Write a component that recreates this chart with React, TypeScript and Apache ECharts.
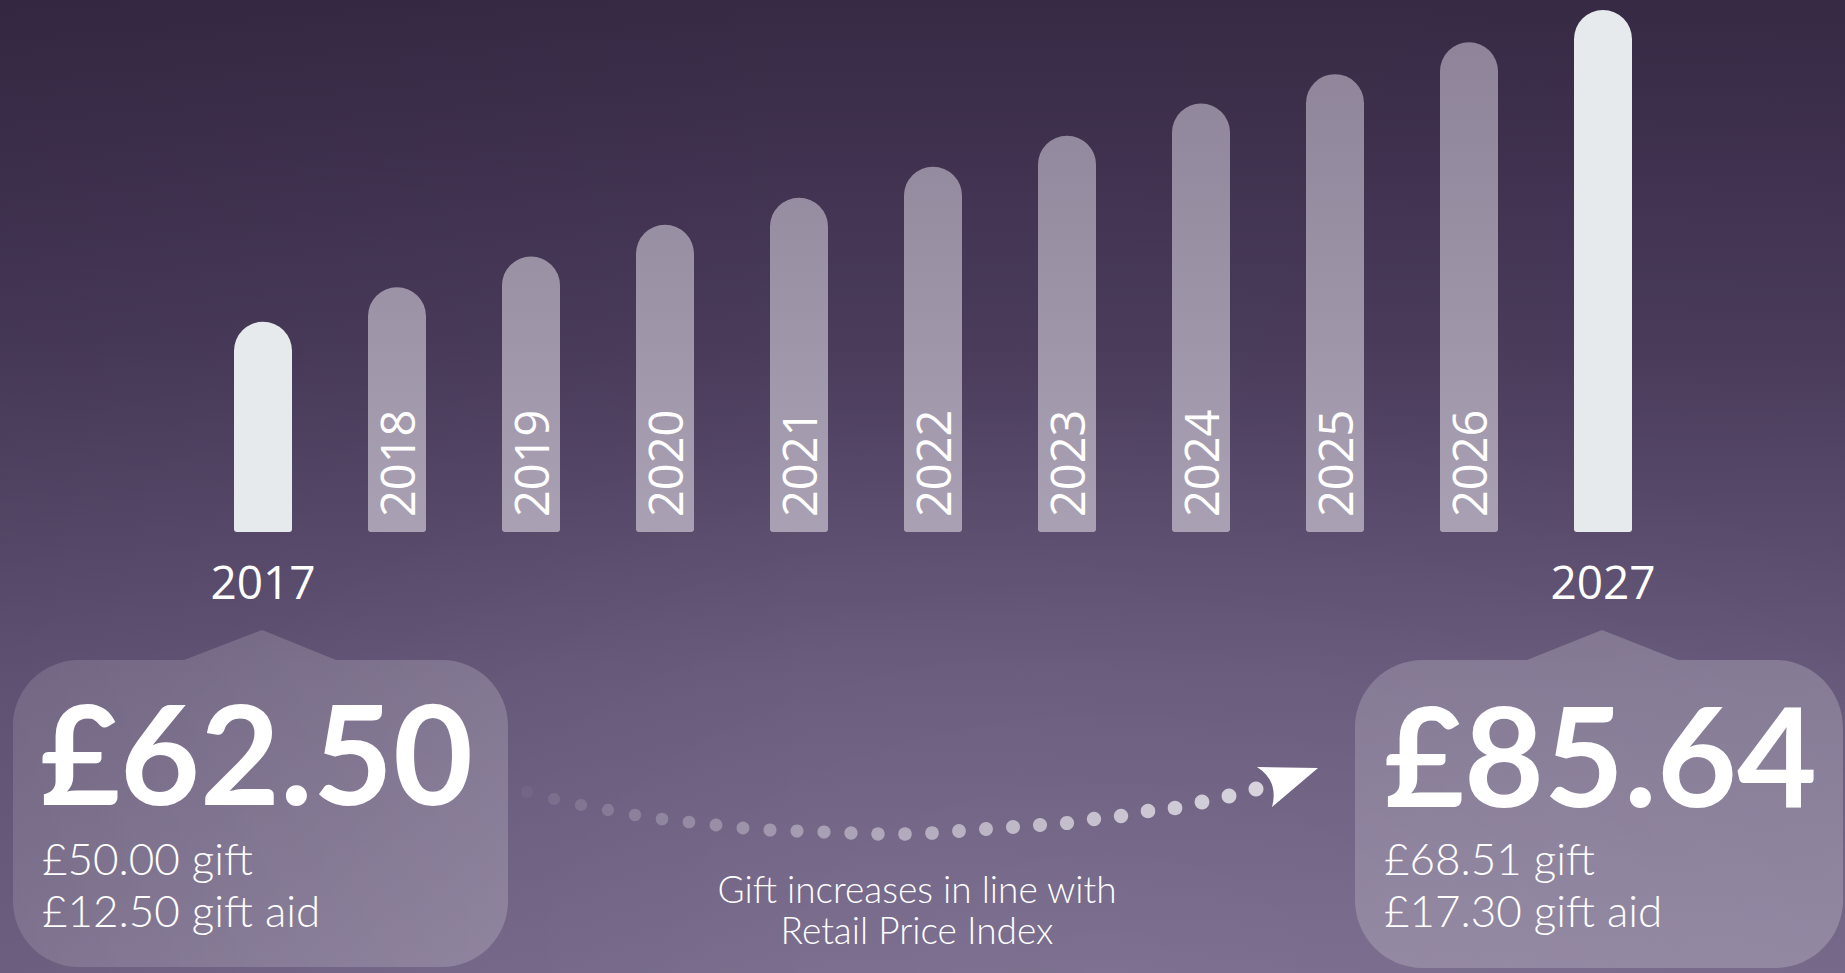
import React, { useEffect, useRef } from "react";
import * as echarts from "echarts";

// ---- data ----
const years = ["2017", "2018", "2019", "2020", "2021", "2022", "2023", "2024", "2025", "2026", "2027"];
const totals = [62.5, 65.07, 67.35, 69.7, 71.71, 74.01, 76.31, 78.7, 80.88, 83.24, 85.64];
const yMin = 46.9;
const yMax = 85.64;

const startAmount = "£62.50";
const startLines = ["£50.00 gift", "£12.50 gift aid"];
const endAmount = "£85.64";
const endLines = ["£68.51 gift", "£17.30 gift aid"];
const noteLines = ["Gift increases in line with", "Retail Price Index"];

// dotted arc: drop of each dot below the arc's top line
const dotDrop = [9, 16, 22, 27, 32, 36, 39, 42, 45, 47, 48, 49, 50, 51, 51, 50, 48, 46, 44, 42, 40, 36, 33, 28, 25, 19, 13, 6];

// ---- shapes ----
function calloutPath(x0: number, x1: number, y0: number, y1: number, r: number, p0: number, pa: number, ay: number, p1: number) {
  const c = r * 0.5523;
  return [
    `M ${x0 + r} ${y0}`,
    `L ${p0} ${y0}`,
    `L ${pa} ${ay}`,
    `L ${p1} ${y0}`,
    `L ${x1 - r} ${y0}`,
    `C ${x1 - r + c} ${y0} ${x1} ${y0 + r - c} ${x1} ${y0 + r}`,
    `L ${x1} ${y1 - r}`,
    `C ${x1} ${y1 - r + c} ${x1 - r + c} ${y1} ${x1 - r} ${y1}`,
    `L ${x0 + r} ${y1}`,
    `C ${x0 + r - c} ${y1} ${x0} ${y1 - r + c} ${x0} ${y1 - r}`,
    `L ${x0} ${y0 + r}`,
    `C ${x0} ${y0 + r - c} ${x0 + r - c} ${y0} ${x0 + r} ${y0}`,
    "Z",
  ].join(" ");
}

echarts.graphic.registerShape("calloutLeft", echarts.graphic.extendPath(calloutPath(13, 508, 660, 967, 66, 184, 262, 630, 336), {}));
echarts.graphic.registerShape("calloutRight", echarts.graphic.extendPath(calloutPath(1355, 1843, 660, 968, 68, 1527, 1602, 630, 1678), {}));
echarts.graphic.registerShape("arrowHead", echarts.graphic.extendPath("M 1257 767 L 1318 768 L 1272 807 Q 1279 781 1257 767 Z", {}));

const NUM_FONT = "Lato";
const YEAR_FONT = "'Open Sans'";

export default function App() {
  const ref = useRef<HTMLDivElement>(null);

  useEffect(() => {
    document.body.style.margin = "0";
    document.body.style.overflow = "hidden";
    const chart = echarts.init(ref.current!, undefined, { renderer: "svg" });

    const barGrad = new echarts.graphic.LinearGradient(0, 0, 0, 532, [
      { offset: 0, color: "#8c8197" },
      { offset: 1, color: "#a9a1b3" },
    ], true);

    const lastIdx = years.length - 1;

    const bigStyle = { fill: "#ffffff", fontFamily: NUM_FONT, fontWeight: "bold", fontSize: 138, lineHeight: 104, verticalAlign: "middle", align: "left" };
    const smallStyle = { fill: "#ffffff", fontFamily: NUM_FONT, fontWeight: 300, fontSize: 44, lineHeight: 44, verticalAlign: "middle", align: "left" };
    const noteStyle = { fill: "#ffffff", fontFamily: NUM_FONT, fontWeight: 300, fontSize: 37, lineHeight: 38, verticalAlign: "middle", align: "center" };

    const option: any = {
      animation: false,
      backgroundColor: new echarts.graphic.LinearGradient(0, 0, 0, 1, [
        { offset: 0, color: "#372a45" },
        { offset: 0.35, color: "#4a3b5b" },
        { offset: 0.7, color: "#67597b" },
        { offset: 1, color: "#76688a" },
      ]),
      grid: [
        { left: 196, right: 175, top: 10, bottom: 441 },
        { left: 527, width: 729, top: 783, height: 60 },
      ],
      xAxis: [
        {
          type: "category",
          gridIndex: 0,
          data: years,
          axisLine: { show: false },
          axisTick: { show: false },
          axisLabel: {
            interval: 0,
            margin: 26,
            color: "#ffffff",
            fontFamily: YEAR_FONT,
            fontSize: 46,
            fontWeight: 500,
            formatter: (v: string, i: number) => (i === 0 || i === lastIdx ? v : ""),
          },
        },
        { type: "value", gridIndex: 1, min: 0, max: dotDrop.length - 1, show: false },
      ],
      yAxis: [
        { type: "value", gridIndex: 0, min: yMin, max: yMax, show: false },
        { type: "value", gridIndex: 1, min: 0, max: 60, inverse: true, show: false },
      ],
      series: [
        {
          type: "bar",
          xAxisIndex: 0,
          yAxisIndex: 0,
          barWidth: 58,
          z: 3,
          data: totals.map((v, i) => {
            const isEnd = i === 0 || i === lastIdx;
            return {
              value: v,
              itemStyle: { color: isEnd ? "#e7eaed" : barGrad, borderRadius: [29, 29, 3, 3] },
              label: { show: !isEnd },
            };
          }),
          label: {
            position: "insideBottom",
            distance: 15,
            rotate: 90,
            align: "left",
            verticalAlign: "middle",
            color: "#ffffff",
            fontFamily: YEAR_FONT,
            fontSize: 47,
            fontWeight: 500,
            formatter: (p: any) => years[p.dataIndex],
          },
        },
        {
          type: "scatter",
          xAxisIndex: 1,
          yAxisIndex: 1,
          symbol: "circle",
          symbolSize: (_v: any, p: any) => 12 + (3 * p.dataIndex) / (dotDrop.length - 1),
          itemStyle: {
            color: (p: any) => {
              const t = p.dataIndex / (dotDrop.length - 1);
              const a = 0.06 + 0.84 * Math.pow(t, 0.8);
              return `rgba(255,255,255,${a.toFixed(3)})`;
            },
          },
          data: dotDrop.map((d, i) => [i, d]),
          silent: true,
        },
      ],
      graphic: [
        {
          type: "rect",
          z: 0,
          silent: true,
          shape: { x: 0, y: 0, width: 1845, height: 973 },
          style: {
            fill: new echarts.graphic.RadialGradient(0.6, 1.0, 0.6, [
              { offset: 0, color: "rgba(255,255,255,0.06)" },
              { offset: 1, color: "rgba(255,255,255,0)" },
            ]),
          },
        },
        {
          type: "rect",
          z: 0,
          silent: true,
          shape: { x: 0, y: 0, width: 1845, height: 973 },
          style: {
            fill: new echarts.graphic.LinearGradient(0, 0, 1, 0, [
              { offset: 0, color: "rgba(20,10,30,0.10)" },
              { offset: 0.45, color: "rgba(20,10,30,0)" },
              { offset: 1, color: "rgba(20,10,30,0.02)" },
            ]),
          },
        },
        {
          type: "calloutLeft",
          z: 1,
          style: {
            fill: new echarts.graphic.LinearGradient(0, 0, 1, 0, [
              { offset: 0, color: "rgba(255,255,255,0.13)" },
              { offset: 1, color: "rgba(255,255,255,0.19)" },
            ]),
          },
        },
        {
          type: "calloutRight",
          z: 1,
          style: {
            fill: new echarts.graphic.LinearGradient(0, 0, 1, 0, [
              { offset: 0, color: "rgba(255,255,255,0.19)" },
              { offset: 1, color: "rgba(255,255,255,0.21)" },
            ]),
          },
        },
        {
          type: "arrowHead",
          z: 4,
          style: { fill: "#ffffff" },
        },
        { type: "text", z: 5, x: 40, y: 751, style: { ...bigStyle, text: startAmount } },
        { type: "text", z: 5, x: 42, y: 858, style: { ...smallStyle, text: startLines[0] } },
        { type: "text", z: 5, x: 42, y: 910, style: { ...smallStyle, text: startLines[1] } },
        { type: "text", z: 5, x: 1384, y: 753, style: { ...bigStyle, text: endAmount } },
        { type: "text", z: 5, x: 1384, y: 858, style: { ...smallStyle, text: endLines[0] } },
        { type: "text", z: 5, x: 1384, y: 910, style: { ...smallStyle, text: endLines[1] } },
        { type: "text", z: 5, x: 917, y: 888, style: { ...noteStyle, text: noteLines[0] } },
        { type: "text", z: 5, x: 917, y: 929, style: { ...noteStyle, text: noteLines[1] } },
      ],
    };

    chart.setOption(option);
    return () => {
      chart.dispose();
    };
  }, []);

  return <div ref={ref} style={{ width: 1845, height: 973 }} />;
}
